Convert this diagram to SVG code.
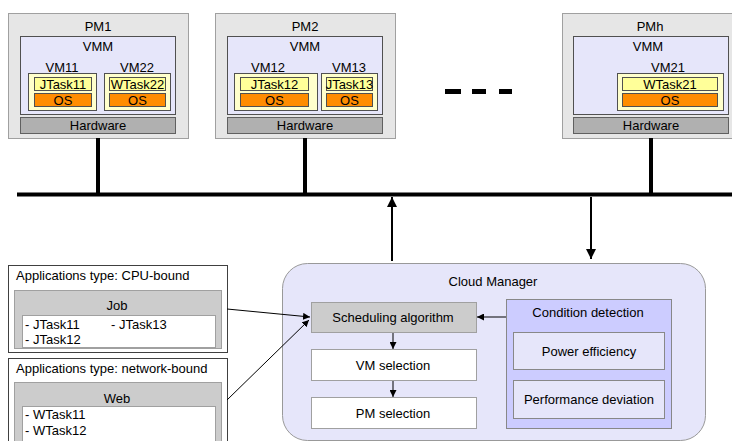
<svg xmlns="http://www.w3.org/2000/svg" width="732" height="441" viewBox="0 0 732 441">
<defs>
<marker id="ah" viewBox="0 0 10 10" refX="10" refY="5" markerWidth="7" markerHeight="7" orient="auto" markerUnits="userSpaceOnUse"><path d="M0,0 L10,5 L0,10 z" fill="#000"/></marker>
<marker id="ahb" viewBox="0 0 10 10" refX="10" refY="5" markerWidth="10" markerHeight="12" orient="auto" markerUnits="userSpaceOnUse"><path d="M0,0 L10,5 L0,10 z" fill="#000"/></marker>
</defs>
<style>
text{font-family:"Liberation Sans",Arial,sans-serif;font-size:13px;fill:#000}
.c{text-anchor:middle}
.pm{fill:#e6e6e6;stroke:#a0a0a0;stroke-width:1}
.vmm{fill:#e6e6fa;stroke:#505050;stroke-width:1}
.vm{fill:#ffffcc;stroke:#505050;stroke-width:1}
.task{fill:#ffff99;stroke:#505050;stroke-width:1}
.os{fill:#ff8c00;stroke:#505050;stroke-width:1}
.hw{fill:#b0b0b0;stroke:#606060;stroke-width:1}
.app{fill:#fff;stroke:#404040;stroke-width:1}
.grp{fill:#cccccc;stroke:#a0a0a0;stroke-width:1}
.wh{fill:#fff;stroke:#a0a0a0;stroke-width:1}
.cm{fill:#e6e6fa;stroke:#999;stroke-width:1}
.cd{fill:#ccccff;stroke:#888;stroke-width:1}
.ce{fill:#e6e6fa;stroke:#888;stroke-width:1}
.thick{stroke:#000;stroke-width:4;fill:none}
.ln{stroke:#000;stroke-width:1;fill:none}
</style>

<g id="pm1">
<rect class="pm" x="8.5" y="13.5" width="180" height="125"/>
<text class="c" x="98" y="31">PM1</text>
<rect class="vmm" x="20.5" y="36.5" width="155" height="78"/>
<text class="c" x="98" y="51">VMM</text>
<text class="c" x="62" y="72">VM11</text>
<text class="c" x="137" y="72">VM22</text>
<rect class="vm" x="28.5" y="73.5" width="68" height="37"/>
<rect class="task" x="34.5" y="77.5" width="57" height="13"/>
<text class="c" x="63" y="88.5">JTask11</text>
<rect class="os" x="34.5" y="93.5" width="57" height="13"/>
<text class="c" x="63" y="104.5">OS</text>
<rect class="vm" x="104.5" y="73.5" width="66" height="37"/>
<rect class="task" x="109.5" y="77.5" width="56" height="13"/>
<text class="c" x="137.5" y="88.5">WTask22</text>
<rect class="os" x="109.5" y="93.5" width="56" height="13"/>
<text class="c" x="137.5" y="104.5">OS</text>
<rect class="hw" x="20.5" y="117.5" width="155" height="16"/>
<text class="c" x="98" y="130">Hardware</text>
</g>

<g id="pm2">
<rect class="pm" x="215.5" y="13.5" width="180" height="125"/>
<text class="c" x="305" y="31">PM2</text>
<rect class="vmm" x="227.5" y="36.5" width="155" height="78"/>
<text class="c" x="305" y="51">VMM</text>
<text class="c" x="268" y="72">VM12</text>
<text class="c" x="349" y="72">VM13</text>
<rect class="vm" x="234.5" y="73.5" width="83" height="37"/>
<rect class="task" x="240.5" y="77.5" width="68" height="13"/>
<text class="c" x="274.5" y="88.5">JTask12</text>
<rect class="os" x="240.5" y="93.5" width="68" height="13"/>
<text class="c" x="274.5" y="104.5">OS</text>
<rect class="vm" x="321.5" y="73.5" width="56" height="37"/>
<rect class="task" x="326.5" y="77.5" width="46" height="13"/>
<text class="c" x="349.5" y="88.5">JTask13</text>
<rect class="os" x="326.5" y="93.5" width="46" height="13"/>
<text class="c" x="349.5" y="104.5">OS</text>
<rect class="hw" x="227.5" y="117.5" width="155" height="16"/>
<text class="c" x="305" y="130">Hardware</text>
</g>

<g id="dots">
<rect x="445" y="89" width="16" height="5" fill="#000"/>
<rect x="472" y="89" width="14" height="5" fill="#000"/>
<rect x="499" y="89" width="13" height="5" fill="#000"/>
</g>

<g id="pmh">
<rect class="pm" x="562.5" y="13.5" width="172" height="125"/>
<text class="c" x="650" y="31">PMh</text>
<rect class="vmm" x="573.5" y="36.5" width="155" height="78"/>
<text class="c" x="648" y="51">VMM</text>
<text class="c" x="668" y="72">VM21</text>
<rect class="vm" x="617.5" y="73.5" width="106" height="37"/>
<rect class="task" x="622.5" y="77.5" width="95" height="13"/>
<text class="c" x="670" y="88.5">WTask21</text>
<rect class="os" x="622.5" y="93.5" width="95" height="13"/>
<text class="c" x="670" y="104.5">OS</text>
<rect class="hw" x="573.5" y="117.5" width="155" height="16"/>
<text class="c" x="651" y="130">Hardware</text>
</g>

<g id="app-cpu">
<rect class="app" x="8.5" y="265.5" width="219" height="87"/>
<text x="16" y="280">Applications type: CPU-bound</text>
<rect class="grp" x="14.5" y="290.5" width="207" height="58"/>
<text class="c" x="117" y="310">Job</text>
<rect class="wh" x="22.5" y="315.5" width="193" height="32"/>
<text x="25" y="329">- JTask11</text>
<text x="111" y="329">- JTask13</text>
<text x="25" y="344">- JTask12</text>
</g>

<g id="app-net">
<rect class="app" x="8.5" y="358.5" width="219" height="90"/>
<text x="16" y="373">Applications type: network-bound</text>
<rect class="grp" x="14.5" y="382.5" width="207" height="65"/>
<text class="c" x="117" y="403">Web</text>
<rect class="wh" x="22.5" y="406.5" width="193" height="40"/>
<text x="25" y="419">- WTask11</text>
<text x="25" y="435">- WTask12</text>
</g>

<g id="cloud-manager">
<rect class="cm" x="282.5" y="263.5" width="423" height="177" rx="25" ry="25"/>
<text class="c" x="493" y="286">Cloud Manager</text>
</g>
<g id="scheduling">
<rect class="grp" x="311.5" y="302.5" width="165" height="30"/>
<text class="c" x="393" y="322">Scheduling algorithm</text>
</g>
<g id="vm-selection">
<rect class="wh" x="311.5" y="349.5" width="165" height="31"/>
<text class="c" x="393" y="370">VM selection</text>
</g>
<g id="pm-selection">
<rect class="wh" x="311.5" y="397.5" width="165" height="31"/>
<text class="c" x="393" y="418">PM selection</text>
</g>
<g id="condition-detection">
<rect class="cd" x="506.5" y="299.5" width="165" height="129"/>
<text class="c" x="588" y="317">Condition detection</text>
<rect class="ce" x="513.5" y="332.5" width="151" height="37"/>
<text class="c" x="589" y="356">Power efficiency</text>
<rect class="ce" x="513.5" y="380.5" width="151" height="38"/>
<text class="c" x="589" y="404">Performance deviation</text>
</g>

<g id="connectors">
<line class="thick" x1="17" y1="194.5" x2="732" y2="194.5"/>
<line class="thick" x1="98" y1="138" x2="98" y2="194"/>
<line class="thick" x1="305" y1="138" x2="305" y2="194"/>
<line class="thick" x1="651" y1="138" x2="651" y2="194"/>
<line x1="392" y1="261" x2="392" y2="197" stroke="#000" stroke-width="2" marker-end="url(#ahb)"/>
<line x1="591" y1="197" x2="591" y2="259" stroke="#000" stroke-width="2" marker-end="url(#ahb)"/>
<line class="ln" x1="227" y1="309" x2="310" y2="317" marker-end="url(#ah)"/>
<line class="ln" x1="227" y1="400" x2="309" y2="320" marker-end="url(#ah)"/>
<line class="ln" x1="506" y1="317" x2="477" y2="317" marker-end="url(#ah)"/>
<line class="ln" x1="393" y1="333" x2="393" y2="349" marker-end="url(#ah)"/>
<line class="ln" x1="393" y1="381" x2="393" y2="397" marker-end="url(#ah)"/>
</g>
</svg>
